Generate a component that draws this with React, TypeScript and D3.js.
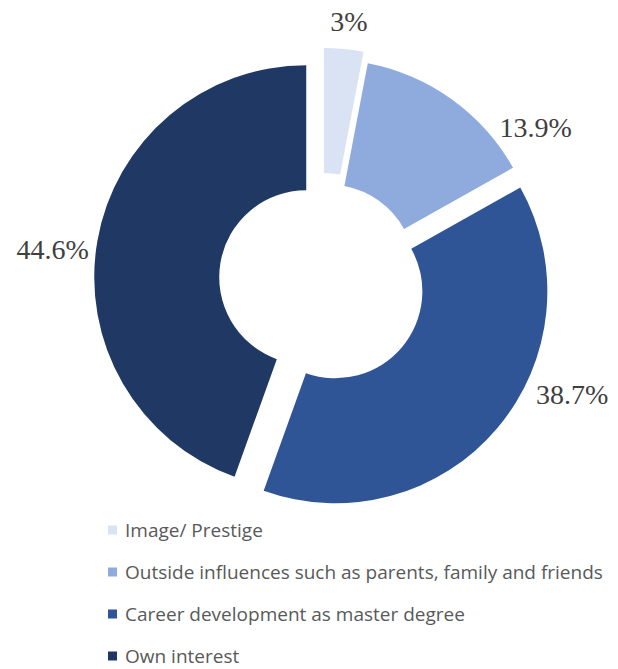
import React from "react";
import * as d3 from "d3";

// Survey shares (percent) by reason
const categories = [
  "Image/ Prestige",
  "Outside influences such as parents, family and friends",
  "Career development as master degree",
  "Own interest",
];
const shares = [3, 13.9, 38.7, 44.6];
const valueLabels = ["3%", "13.9%", "38.7%", "44.6%"];

// Presentation
const palette = ["#DAE3F3", "#8FAADC", "#2F5597", "#203864"];
const explode = [20, 10.5, 17.5, 16];
const labelAngleShift = [0.6, 19.4, -16.8, -3.6];
const labelRadius = [240, 253, 258, 255];

const W = 618;
const H = 669;
const cx = 322;
const cy = 280;
const outerR = 212;
const innerR = 87;

export default function App() {
  const pie = d3
    .pie<number>()
    .sort(null)
    .value((d) => d);
  const arcs = pie(shares);
  const arc = d3
    .arc<d3.PieArcDatum<number>>()
    .innerRadius(innerR)
    .outerRadius(outerR);

  const legendX = 108;
  const legendY0 = 530;
  const legendStep = 42;

  return (
    <svg
      width={W}
      height={H}
      viewBox={`0 0 ${W} ${H}`}
      style={{ position: "absolute", left: 0, top: 0, background: "#fff" }}
    >
      {arcs.map((a, i) => {
        const mid = (a.startAngle + a.endAngle) / 2;
        const ox = cx + explode[i] * Math.sin(mid);
        const oy = cy - explode[i] * Math.cos(mid);
        const la = mid + (labelAngleShift[i] * Math.PI) / 180;
        const lx = ox + labelRadius[i] * Math.sin(la);
        const ly = oy - labelRadius[i] * Math.cos(la);
        return (
          <g key={categories[i]}>
            <path
              d={arc(a) ?? ""}
              transform={`translate(${ox},${oy})`}
              fill={palette[i]}
            />
            <text
              x={lx}
              y={ly + 10}
              textAnchor="middle"
              fontFamily="'Liberation Serif', 'Times New Roman', serif"
              fontSize={28}
              fill="#404040"
            >
              {valueLabels[i]}
            </text>
          </g>
        );
      })}
      {categories.map((c, i) => {
        const y = legendY0 + i * legendStep;
        return (
          <g key={`lg-${c}`}>
            <rect x={legendX} y={y - 4.5} width={9} height={9} fill={palette[i]} />
            <text
              x={legendX + 17}
              y={y + 6.5}
              fontFamily="'Open Sans', sans-serif"
              fontSize={19}
              fill="#595959"
            >
              {c}
            </text>
          </g>
        );
      })}
    </svg>
  );
}
